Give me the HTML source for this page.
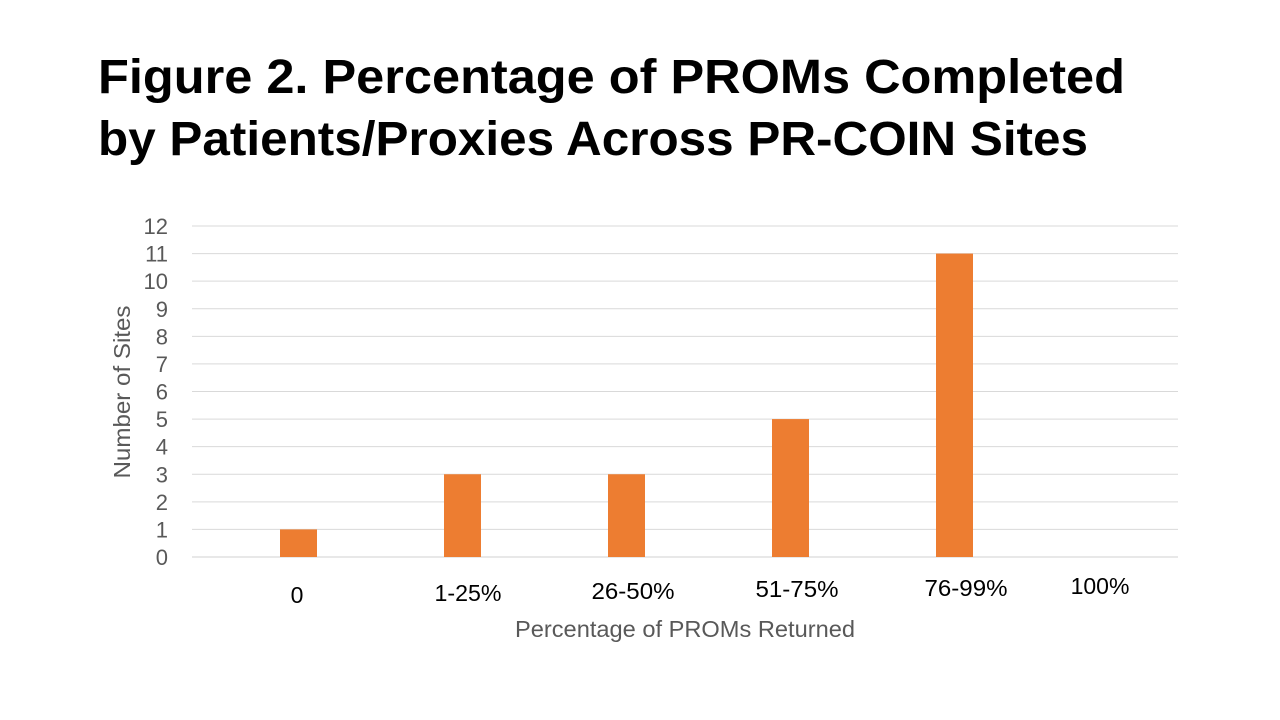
<!DOCTYPE html>
<html><head><meta charset="utf-8"><style>
html,body{margin:0;padding:0;background:#fff;}
svg{display:block;font-family:"Liberation Sans",sans-serif;}
</style></head><body>
<svg id="chart" width="1280" height="720" viewBox="0 0 1280 720">
<text x="98" y="93" font-size="48" font-weight="bold" fill="#000" textLength="1027" lengthAdjust="spacingAndGlyphs">Figure 2. Percentage of PROMs Completed</text>
<text x="98" y="155" font-size="48" font-weight="bold" fill="#000" textLength="990" lengthAdjust="spacingAndGlyphs">by Patients/Proxies Across PR-COIN Sites</text>
<g id="grid"></g>
<g id="yticks"></g>
<g id="bars"></g>
<g id="xlabels"></g>
<text transform="translate(130,392) rotate(-90)" text-anchor="middle" font-size="23" fill="#595959" textLength="173" lengthAdjust="spacingAndGlyphs">Number of Sites</text>
<text x="685" y="637" text-anchor="middle" font-size="23" fill="#595959" textLength="340" lengthAdjust="spacingAndGlyphs">Percentage of PROMs Returned</text>
</svg>
<script>
const categories = ["0","1-25%","26-50%","51-75%","76-99%","100%"];
const values = [1,3,3,5,11,0];
const yTicks = [0,1,2,3,4,5,6,7,8,9,10,11,12];
const NS="http://www.w3.org/2000/svg";
const y0=557, y12=226, left=192, right=1178;
function yScale(v){return y0-(y0-y12)*v/12;}
function xCenter(i){return 298.5+i*164;}
const labelX=[297,468,633,797,966,1100];
const labelY=[603,601,599,597,596,594];
const labelW=[0,67,83,83,83,0];
const grid=document.getElementById('grid'), yt=document.getElementById('yticks'), bars=document.getElementById('bars'), xl=document.getElementById('xlabels');
yTicks.forEach(t=>{
  const l=document.createElementNS(NS,'line');
  
  
  l.setAttribute('x1',left);l.setAttribute('x2',right);
  l.setAttribute('y1',yScale(t));l.setAttribute('y2',yScale(t));
  l.setAttribute('stroke',t===0?'#d0d0d0':'#d9d9d9');l.setAttribute('stroke-width','1');
  grid.appendChild(l);
  const tx=document.createElementNS(NS,'text');
  
  
  tx.setAttribute('x',168);tx.setAttribute('y',yScale(t)+8);
  tx.setAttribute('text-anchor','end');tx.setAttribute('font-size','22');tx.setAttribute('fill','#595959');
  tx.textContent=t;yt.appendChild(tx);
});
categories.forEach((c,i)=>{
  const v=values[i];
  if(v>0){
    const r=document.createElementNS(NS,'rect');
    
    
    r.setAttribute('x',xCenter(i)-18.5);r.setAttribute('width',37);
    r.setAttribute('y',yScale(v));r.setAttribute('height',y0-yScale(v));
    r.setAttribute('fill','#ED7D31');
    bars.appendChild(r);
  }
  const tx=document.createElementNS(NS,'text');
  
  
  tx.setAttribute('x',labelX[i]);tx.setAttribute('y',labelY[i]);
  tx.setAttribute('text-anchor','middle');tx.setAttribute('font-size','23');tx.setAttribute('fill','#000');
  if(labelW[i]){tx.setAttribute('textLength',labelW[i]);tx.setAttribute('lengthAdjust','spacingAndGlyphs');}
  tx.textContent=c;xl.appendChild(tx);
});
</script>
</body></html>
